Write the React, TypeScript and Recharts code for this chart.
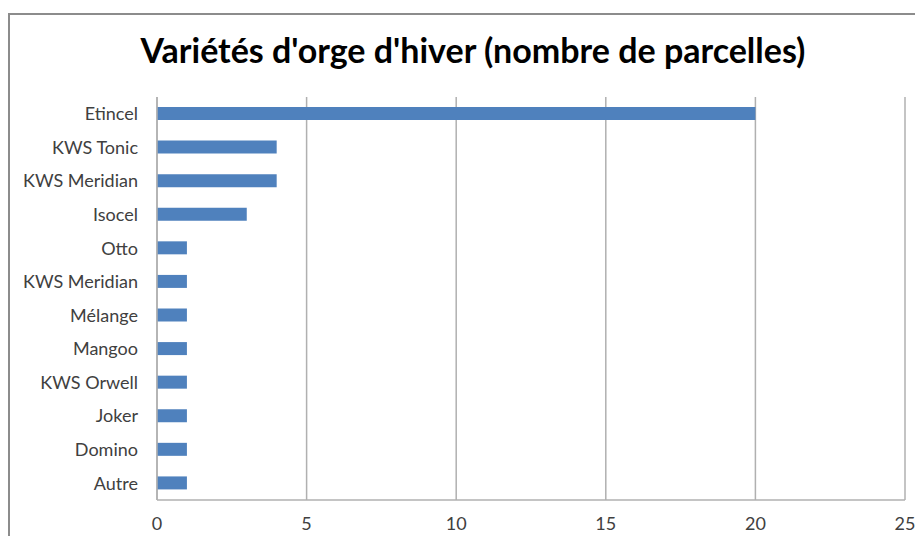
import React from 'react';
import { BarChart, Bar, XAxis, YAxis, CartesianGrid } from 'recharts';

const categories = [
    'Etincel',
    'KWS Tonic',
    'KWS Meridian',
    'Isocel',
    'Otto',
    'KWS Meridian',
    'Mélange',
    'Mangoo',
    'KWS Orwell',
    'Joker',
    'Domino',
    'Autre',
];
const parcelles = [20, 4, 4, 3, 1, 1, 1, 1, 1, 1, 1, 1];
const xTicks = [0, 5, 10, 15, 20, 25];

// index key so the duplicated "KWS Meridian" keeps its own row
const data = categories.map((name, i) => ({ idx: i, name, value: parcelles[i] }));

const FONT = 'Lato, "Open Sans", sans-serif';

export default function App() {
    return (
        <div style={{ position: 'relative', width: 915, height: 528, overflow: 'hidden', fontFamily: FONT }}>
            <div
                style={{
                    position: 'absolute',
                    left: 0,
                    top: 5,
                    width: 1000,
                    height: 1000,
                    borderLeft: '2px solid #8c8c8c',
                    borderTop: '2px solid #8c8c8c',
                }}
            />
            <div
                style={{
                    position: 'absolute',
                    left: 0,
                    top: 20,
                    width: 930,
                    textAlign: 'center',
                    fontSize: 34,
                    fontWeight: 700,
                    color: '#000',
                    lineHeight: '44px',
                }}
            >
                Variétés d'orge d'hiver (nombre de parcelles)
            </div>
            <div style={{ position: 'absolute', left: 0, top: 0 }}>
                <BarChart
                    width={915}
                    height={528}
                    data={data}
                    layout="vertical"
                    margin={{ top: 89, right: 18, bottom: 6, left: 0 }}
                    barCategoryGap={0}
                >
                    <CartesianGrid stroke="#b0b0b0" strokeWidth={1.5} horizontal={false} />
                    <XAxis
                        type="number"
                        domain={[0, 25]}
                        ticks={xTicks}
                        interval={0}
                        height={30}
                        tickLine={false}
                        tickSize={6}
                        tickMargin={11}
                        axisLine={{ stroke: '#b0b0b0', strokeWidth: 1.5 }}
                        tick={{ fill: '#404040', fontSize: 18, fontFamily: FONT }}
                    />
                    <YAxis
                        type="category"
                        dataKey="idx"
                        width={149}
                        interval={0}
                        tickLine={false}
                        tickSize={6}
                        tickMargin={13}
                        tickFormatter={(i: number) => categories[i]}
                        axisLine={{ stroke: '#b0b0b0', strokeWidth: 1.5 }}
                        tick={{ fill: '#404040', fontSize: 18, fontFamily: FONT }}
                    />
                    <Bar dataKey="value" fill="#4f81bd" barSize={13} isAnimationActive={false} />
                </BarChart>
            </div>
        </div>
    );
}
